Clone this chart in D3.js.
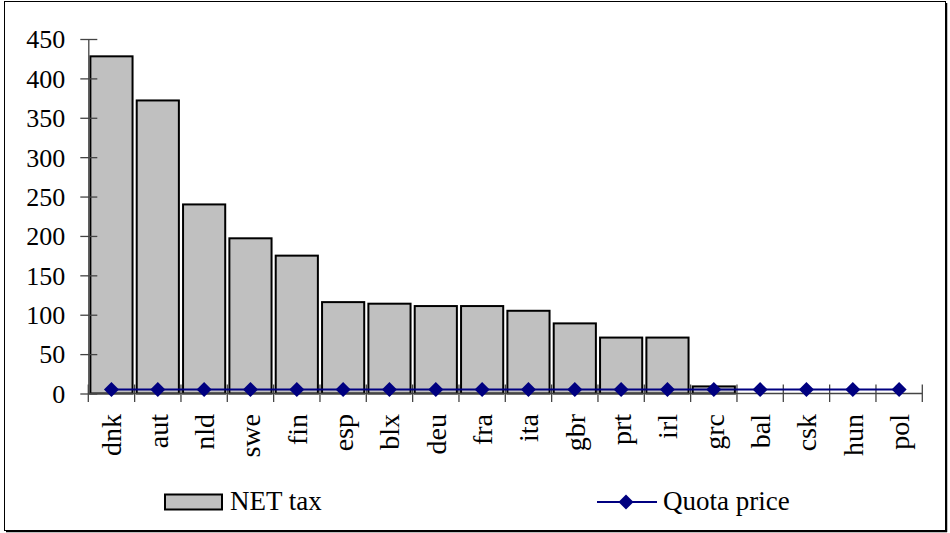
<!DOCTYPE html>
<html>
<head>
<meta charset="utf-8">
<script src="https://cdn.jsdelivr.net/npm/d3@7"></script>
<style>
  html, body { margin: 0; padding: 0; background: #fff; }
  svg { display: block; font-family: "Liberation Serif", "Times New Roman", serif; }
</style>
</head>
<body>
<svg id="chart" width="950" height="533"></svg>
<script>
// Country codes along the category axis
const categories = ["dnk", "aut", "nld", "swe", "fin", "esp", "blx", "deu", "fra",
                    "ita", "gbr", "prt", "irl", "grc", "bal", "csk", "hun", "pol"];
// NET tax per country
const netTax = [428, 372, 240, 197, 175, 116, 114, 111, 111, 105, 89, 71, 71, 9, 0, 0, 0, 0];
// Quota price per country
const quotaPrice = [5, 5, 5, 5, 5, 5, 5, 5, 5, 5, 5, 5, 5, 5, 5, 5, 5, 5];
// Value axis ticks
const yTicks = [0, 50, 100, 150, 200, 250, 300, 350, 400, 450];

const svg = d3.select("#chart");

// Outer frame with a slight drop shadow on the right and bottom
svg.append("rect")
  .attr("x", 4.5).attr("y", 1.5).attr("width", 941).attr("height", 529)
  .attr("fill", "#fff").attr("stroke", "#000").attr("stroke-width", 1);
svg.append("line").attr("x1", 946.5).attr("x2", 946.5).attr("y1", 3).attr("y2", 532)
  .attr("stroke", "#000").attr("stroke-width", 1.5);
svg.append("line").attr("x1", 6).attr("x2", 947).attr("y1", 531.5).attr("y2", 531.5)
  .attr("stroke", "#000").attr("stroke-width", 1.5);

const plot = { left: 88.3, right: 922.3, top: 39, bottom: 393.5 };

const x = d3.scaleBand()
  .domain(categories)
  .range([plot.left, plot.right])
  .paddingInner(0.09)
  .paddingOuter(0.045);

const xTickScale = d3.scaleLinear()
  .domain([0, categories.length])
  .range([plot.left, plot.right]);

const y = d3.scaleLinear()
  .domain([0, 450])
  .range([plot.bottom, plot.top]);

const axisColor = "#444";

// Bars
svg.append("g")
  .selectAll("rect")
  .data(categories)
  .join("rect")
  .attr("x", d => x(d))
  .attr("y", (d, i) => y(netTax[i]))
  .attr("width", x.bandwidth())
  .attr("height", (d, i) => y(0) - y(netTax[i]))
  .attr("fill", "#c0c0c0")
  .attr("stroke", "#000")
  .attr("stroke-width", 2);

// Y axis
const yAxis = svg.append("g").attr("transform", `translate(${plot.left},0)`)
  .call(d3.axisLeft(y).tickValues(yTicks).tickSize(0).tickPadding(23).tickFormat(d3.format("d")));
yAxis.select(".domain").attr("stroke", axisColor).attr("stroke-width", 1.3);
yAxis.selectAll(".tick text")
  .attr("font-size", 26)
  .attr("font-family", "Liberation Serif, Times New Roman, serif")
  .attr("fill", "#000")
  .attr("dy", "0.34em");
yAxis.selectAll(".tick").append("line")
  .attr("x1", -8).attr("x2", 9)
  .attr("stroke", axisColor).attr("stroke-width", 1.3);

// X axis line and crossing tick marks between categories
svg.append("line")
  .attr("x1", plot.left).attr("x2", plot.right)
  .attr("y1", y(0)).attr("y2", y(0))
  .attr("stroke", axisColor).attr("stroke-width", 1.3);
svg.append("g")
  .selectAll("line")
  .data(d3.range(categories.length + 1))
  .join("line")
  .attr("x1", d => xTickScale(d)).attr("x2", d => xTickScale(d))
  .attr("y1", y(0) - 9).attr("y2", y(0) + 8.5)
  .attr("stroke", axisColor).attr("stroke-width", 1.3);

// Rotated category labels
svg.append("g")
  .selectAll("text")
  .data(categories)
  .join("text")
  .attr("transform", d => {
    const cx = x(d) + x.bandwidth() / 2;
    return `translate(${cx},414) rotate(-90)`;
  })
  .attr("text-anchor", "end")
  .attr("dy", "0.35em")
  .attr("font-size", 28)
  .attr("fill", "#000")
  .text(d => d);

// Quota price line with diamond markers
const cx = (d, i) => x(categories[i]) + x.bandwidth() / 2;
const line = d3.line()
  .x((d, i) => cx(d, i))
  .y(d => y(d));
svg.append("path")
  .datum(quotaPrice)
  .attr("d", line)
  .attr("fill", "none")
  .attr("stroke", "#000080")
  .attr("stroke-width", 2);

const diamond = (r) => `M0,${-r}L${r},0L0,${r}L${-r},0Z`;
svg.append("g")
  .selectAll("path")
  .data(quotaPrice)
  .join("path")
  .attr("transform", (d, i) => `translate(${cx(d, i)},${y(d)})`)
  .attr("d", diamond(7.5))
  .attr("fill", "#000080");

// Legend
const legend = svg.append("g");
legend.append("rect")
  .attr("x", 165).attr("y", 494.5).attr("width", 57).attr("height", 15)
  .attr("fill", "#c0c0c0").attr("stroke", "#000").attr("stroke-width", 2);
legend.append("text")
  .attr("x", 230).attr("y", 509.5)
  .attr("font-size", 27).attr("fill", "#000")
  .text("NET tax");
legend.append("line")
  .attr("x1", 597).attr("x2", 657).attr("y1", 502).attr("y2", 502)
  .attr("stroke", "#000080").attr("stroke-width", 2);
legend.append("path")
  .attr("transform", "translate(626,502)")
  .attr("d", diamond(7.5))
  .attr("fill", "#000080");
legend.append("text")
  .attr("x", 663).attr("y", 509.5)
  .attr("font-size", 27).attr("fill", "#000")
  .text("Quota price");
</script>
</body>
</html>
